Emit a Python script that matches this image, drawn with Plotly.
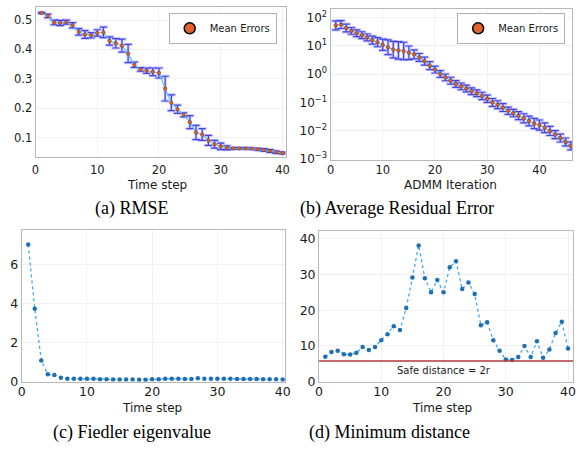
import plotly.graph_objects as go
import numpy as np

# ---------------- data ----------------
steps_a = list(range(1, 41))
rmse_mean = [0.524, 0.514, 0.492, 0.490, 0.493, 0.482, 0.460, 0.451, 0.448, 0.456,
             0.458, 0.429, 0.421, 0.413, 0.386, 0.348, 0.332, 0.328, 0.324, 0.320,
             0.267, 0.219, 0.197, 0.178, 0.153, 0.118, 0.111, 0.091, 0.078, 0.071,
             0.066, 0.064, 0.064, 0.064, 0.063, 0.061, 0.059, 0.055, 0.051, 0.048]
rmse_err = [0.002, 0.006, 0.008, 0.009, 0.007, 0.009, 0.011, 0.013, 0.009, 0.011,
            0.018, 0.014, 0.016, 0.022, 0.031, 0.009, 0.006, 0.009, 0.013, 0.017,
            0.042, 0.027, 0.014, 0.007, 0.022, 0.024, 0.020, 0.017, 0.013, 0.011,
            0.007, 0.003, 0.002, 0.002, 0.002, 0.003, 0.004, 0.005, 0.004, 0.003]

iters_b = list(range(1, 47))
resid_mean = [53, 57, 43, 34, 28, 24, 20, 16, 13.5, 11,
              9.0, 7.4, 6.9, 6.6, 5.7, 5.0, 3.9, 2.9, 2.0, 1.45,
              1.02, 0.77, 0.59, 0.45, 0.37, 0.31, 0.25, 0.21, 0.17, 0.135,
              0.10, 0.083, 0.066, 0.051, 0.042, 0.034, 0.0275, 0.022, 0.018, 0.0158,
              0.0127, 0.0098, 0.0073, 0.0055, 0.0040, 0.0029]
# error half-widths in decades (log10 units)
resid_err_dec = [0.16, 0.14, 0.14, 0.12, 0.12, 0.12, 0.12, 0.14, 0.16, 0.20,
                 0.26, 0.29, 0.31, 0.31, 0.24, 0.16, 0.14, 0.14, 0.14, 0.12,
                 0.12, 0.12, 0.12, 0.12, 0.12, 0.12, 0.12, 0.12, 0.13, 0.13,
                 0.14, 0.14, 0.14, 0.13, 0.13, 0.14, 0.16, 0.17, 0.18, 0.18,
                 0.17, 0.16, 0.14, 0.14, 0.14, 0.14]

steps_c = list(range(1, 41))
fiedler = [7.0, 3.72, 1.08, 0.38, 0.35, 0.20, 0.15, 0.15, 0.16, 0.15,
           0.16, 0.13, 0.13, 0.12, 0.12, 0.12, 0.12, 0.11, 0.11, 0.13,
           0.13, 0.15, 0.15, 0.15, 0.14, 0.14, 0.18, 0.15, 0.15, 0.15,
           0.15, 0.15, 0.14, 0.14, 0.14, 0.14, 0.13, 0.13, 0.13, 0.12]

steps_d = list(range(1, 41))
min_dist = [7.0, 8.3, 8.7, 7.7, 7.6, 8.1, 9.7, 8.9, 9.7, 11.6,
            13.3, 15.5, 14.5, 20.6, 29.1, 38.1, 28.9, 25.0, 28.4, 25.0,
            32.0, 33.7, 25.9, 27.7, 24.5, 15.8, 16.6, 11.6, 8.7, 6.2,
            6.1, 6.9, 10.0, 6.9, 11.3, 6.7, 9.0, 13.6, 16.8, 9.3]
safe_distance = 5.8

captions = ["(a) RMSE", "(b) Average Residual Error", "(c) Fiedler eigenvalue", "(d) Minimum distance"]
log_tickvals = [1e-3, 1e-2, 1e-1, 1e0, 1e1, 1e2]
log_ticktext = ["10<sup>−3</sup>", "10<sup>−2</sup>", "10<sup>−1</sup>", "10<sup>0</sup>", "10<sup>1</sup>", "10<sup>2</sup>"]

# ---------------- styles ----------------
W, H = 580, 459
def px_x(p): return p / W
def px_y(p): return 1 - p / H

FONT = "DejaVu Sans"
SERIF = "Liberation Serif"
TXT = "#1a1a1a"
ORANGE = "#e2622f"
ERR = "rgba(60,60,225,0.95)"
ERR_HALO = "rgba(140,140,255,0.45)"
LINE_AB = "#5cc6ee"
DOT_LINE = "#3fa9ee"
DOT_MARK = "#1f6fb5"

fig = go.Figure()

# ---- panel (a)
fig.add_trace(go.Scatter(x=steps_a, y=rmse_mean, mode="markers", marker=dict(size=1, opacity=0),
                         error_y=dict(type="data", array=rmse_err, color=ERR_HALO, thickness=3, width=4.5),
                         xaxis="x", yaxis="y", showlegend=False, hoverinfo="skip"))
fig.add_trace(go.Scatter(x=steps_a, y=rmse_mean, mode="lines+markers",
                         line=dict(color=LINE_AB, width=1.2),
                         marker=dict(size=3.5, color=ORANGE, line=dict(color="#6b2a12", width=0.5)),
                         error_y=dict(type="data", array=rmse_err, color=ERR, thickness=1.2, width=3.5),
                         xaxis="x", yaxis="y", showlegend=False))
fig.add_trace(go.Scatter(x=[None], y=[None], mode="markers", name="Mean Errors",
                         marker=dict(size=11, color=ORANGE, line=dict(color="black", width=1.5)),
                         xaxis="x", yaxis="y", legend="legend"))

# ---- panel (b)
rm = np.array(resid_mean)
de = np.array(resid_err_dec)
up = rm * (10 ** de - 1)
dn = rm * (1 - 10 ** (-de))
fig.add_trace(go.Scatter(x=iters_b, y=resid_mean, mode="markers", marker=dict(size=1, opacity=0),
                         error_y=dict(type="data", symmetric=False, array=up, arrayminus=dn,
                                      color=ERR_HALO, thickness=3, width=4.5),
                         xaxis="x2", yaxis="y2", showlegend=False, hoverinfo="skip"))
fig.add_trace(go.Scatter(x=iters_b, y=resid_mean, mode="lines+markers",
                         line=dict(color=LINE_AB, width=1.2),
                         marker=dict(size=3.5, color=ORANGE, line=dict(color="#6b2a12", width=0.5)),
                         error_y=dict(type="data", symmetric=False, array=up, arrayminus=dn,
                                      color=ERR, thickness=1.2, width=3.5),
                         xaxis="x2", yaxis="y2", showlegend=False))
fig.add_trace(go.Scatter(x=[None], y=[None], mode="markers", name="Mean Errors",
                         marker=dict(size=11, color=ORANGE, line=dict(color="black", width=1.5)),
                         xaxis="x2", yaxis="y2", legend="legend2"))

# ---- panel (c)
fig.add_trace(go.Scatter(x=steps_c, y=fiedler, mode="lines+markers",
                         line=dict(color=DOT_LINE, width=1.3, dash="dot"),
                         marker=dict(size=4.5, color=DOT_MARK),
                         xaxis="x3", yaxis="y3", showlegend=False))

# ---- panel (d)
fig.add_trace(go.Scatter(x=steps_d, y=min_dist, mode="lines+markers",
                         line=dict(color=DOT_LINE, width=1.3, dash="dot"),
                         marker=dict(size=4.5, color=DOT_MARK),
                         xaxis="x4", yaxis="y4", showlegend=False))
fig.add_shape(type="line", xref="x4 domain", yref="y4", x0=0, x1=1, y0=safe_distance, y1=safe_distance,
              line=dict(color="#b03a38", width=1.6))
fig.add_annotation(x=20, y=3.2, xref="x4", yref="y4", text="Safe distance = 2r", showarrow=False,
                   font=dict(family=FONT, size=10, color=TXT))

# ---------------- axes ----------------
def ax(domain, rng, anchor, fs=11.5, **kw):
    d = dict(domain=domain, range=rng, anchor=anchor, showline=True, mirror=True,
             linecolor="#b8b8b8", linewidth=1, showgrid=True, gridcolor="#f1f1f1", gridwidth=1,
             zeroline=False, ticks="", tickfont=dict(family=FONT, size=fs, color=TXT))
    d.update(kw)
    return d

xt = [0, 10, 20, 30, 40]
fig.update_layout(
    xaxis=ax([px_x(32), px_x(286)], [0, 40.5], "y", tickvals=xt, ticklabelstandoff=2),
    yaxis=ax([px_y(159.5), px_y(7.3)], [0.0345, 0.5436], "x", tickvals=[0.1, 0.2, 0.3, 0.4, 0.5]),
    xaxis2=ax([px_x(331.7), px_x(577.3)], [0, 46.3], "y2", tickvals=xt, ticklabelstandoff=-1),
    yaxis2=ax([px_y(162.3), px_y(9)], [-3.03, 2.31], "x2", fs=12, type="log",
              tickvals=log_tickvals, ticktext=log_ticktext),
    xaxis3=ax([px_x(18), px_x(285.7)], [0, 40.4], "y3", fs=12.5, tickvals=xt, ticklabelstandoff=-2),
    yaxis3=ax([px_y(387.7), px_y(234)], [0, 7.72], "x3", fs=12.5, tickvals=[0, 2, 4, 6]),
    xaxis4=ax([px_x(320), px_x(578)], [0, 40.8], "y4", fs=12.5, tickvals=xt, ticklabelstandoff=-2),
    yaxis4=ax([px_y(387.7), px_y(235)], [0, 42], "x4", fs=12.5, tickvals=[0, 10, 20, 30, 40]),
)

legend_style = dict(bgcolor="white", bordercolor="#b0b0b0", borderwidth=1,
                    font=dict(family=FONT, size=10, color=TXT), xanchor="right", yanchor="top",
                    itemwidth=30, tracegroupgap=0)
fig.update_layout(
    legend=dict(x=px_x(277), y=px_y(13), **legend_style),
    legend2=dict(x=px_x(570), y=px_y(13), **legend_style),
)

# axis titles
for txt, cx, cy in [("Time step", 155, 187.5), ("ADMM Iteration", 454, 187.5),
                    ("Time step", 150, 414), ("Time step", 445, 414)]:
    fig.add_annotation(x=px_x(cx), y=px_y(cy), xref="paper", yref="paper", text=txt, showarrow=False,
                       xanchor="center", yanchor="middle", font=dict(family=FONT, size=12, color=TXT))

# captions
for txt, cx, cy in zip(captions, [130, 399, 130, 392], [211.5, 211.5, 439, 439]):
    fig.add_annotation(x=px_x(cx), y=px_y(cy), xref="paper", yref="paper", text=txt, showarrow=False,
                       xanchor="center", yanchor="middle", font=dict(family=SERIF, size=18, color="black"))

fig.update_layout(width=W, height=H, margin=dict(l=0, r=0, t=0, b=0),
                  paper_bgcolor="white", plot_bgcolor="white")

fig.write_html("out.html", config={"displayModeBar": False},
               post_script="document.body.style.margin='0';document.body.style.padding='0';")
